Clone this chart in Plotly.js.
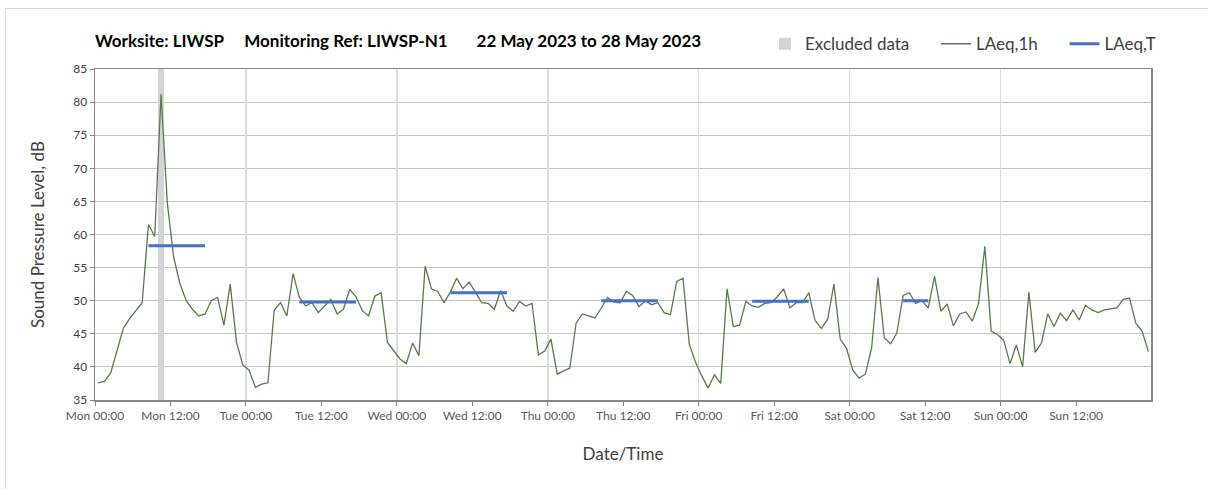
<!DOCTYPE html>
<html>
<head>
<meta charset="utf-8">
<script src="https://cdn.plot.ly/plotly-3.0.1.min.js"></script>
<style>
  body { margin: 0; background: #ffffff; }
  #chart { position: absolute; left: 0; top: 0; width: 1208px; height: 489px; }
  #frame { position: absolute; left: 5px; top: 8px; width: 1210px; height: 490px;
           border-top: 1px solid #d9d9d9; border-left: 1px solid #d9d9d9; pointer-events: none; }
</style>
</head>
<body>
<div id="chart"></div>
<div id="frame"></div>
<script>
// ------------------------------------------------------------------------------
// DATA

// hourly LAeq,1h from Mon 22 May 2023 00:00, one value per hour (plotted mid-hour)
const firstHour = Date.UTC(2023, 4, 22, 0, 30);
const laeq1h = [
    37.6, 37.8, 39.1, 42.6, 45.8, 47.3, 48.5, 49.7, 61.5, 59.7, 81.2, 64.8,
    56.6, 52.6, 50.0, 48.7, 47.7, 48.0, 50.0, 50.5, 46.3, 52.5, 43.7, 40.3,
    39.5, 36.9, 37.4, 37.6, 48.6, 49.7, 47.7, 54.1, 50.5, 49.2, 49.7, 48.2,
    49.2, 50.2, 48.0, 48.7, 51.7, 50.6, 48.5, 47.7, 50.7, 51.2, 43.7, 42.4,
    41.2, 40.5, 43.6, 41.7, 55.2, 51.8, 51.4, 49.7, 51.3, 53.4, 51.8, 52.8,
    51.3, 49.7, 49.6, 48.7, 51.5, 49.2, 48.4, 49.9, 49.2, 49.6, 41.8, 42.4,
    44.2, 38.9, 39.4, 39.8, 46.6, 48.0, 47.7, 47.4, 48.9, 50.5, 49.8, 49.7,
    51.4, 50.8, 49.1, 50.0, 49.4, 49.7, 48.2, 47.9, 52.9, 53.4, 43.4, 40.7,
    38.6, 36.8, 38.8, 37.5, 51.8, 46.1, 46.3, 49.9, 49.2, 49.0, 49.6, 49.7,
    50.6, 51.8, 48.9, 49.7, 49.7, 51.2, 47.0, 45.8, 47.2, 52.5, 44.2, 42.8,
    39.5, 38.3, 38.9, 42.9, 53.5, 44.4, 43.5, 45.1, 50.8, 51.2, 49.6, 50.0,
    48.9, 53.7, 48.4, 49.5, 46.2, 48.0, 48.3, 46.9, 49.6, 58.2, 45.4, 44.9,
    44.0, 40.5, 43.3, 40.0, 51.3, 42.2, 43.6, 48.0, 46.1, 48.1, 47.0, 48.6,
    47.1, 49.3, 48.6, 48.2, 48.6, 48.7, 48.9, 50.2, 50.4, 46.6, 45.4, 42.3
];

// LAeq,T over each assessment period
const periodStart = ['2023-05-22 08:30', '2023-05-23 08:30', '2023-05-24 08:30',
                     '2023-05-25 08:30', '2023-05-26 08:30', '2023-05-27 08:30'];
const periodEnd   = ['2023-05-22 17:30', '2023-05-23 17:30', '2023-05-24 17:30',
                     '2023-05-25 17:30', '2023-05-26 17:30', '2023-05-27 12:30'];
const laeqT       = [58.3, 49.8, 51.2, 50.0, 49.9, 50.0];

// excluded hour
const excludedHour = ['2023-05-22 10:30'];

const yMin = 35;
const yMax = 85;

const font_family = 'Lato, "Open Sans", sans-serif';
const nb = '\u00a0';

// ------------------------------------------------------------------------------
// BUILD

function hourLabel(i) {
    return new Date(firstHour + i * 3600000).toISOString().slice(0, 16).replace('T', ' ');
}

const hourTimes = laeq1h.map((v, i) => hourLabel(i));

const tX = [];
const tY = [];
for (let i = 0; i < laeqT.length; i++) {
    tX.push(periodStart[i], periodEnd[i], null);
    tY.push(laeqT[i], laeqT[i], null);
}

const excluded_trace = {
    type: 'bar',
    name: 'Excluded data' + nb.repeat(5),
    x: excludedHour,
    y: excludedHour.map(() => yMax - yMin),
    base: yMin,
    width: 3600000,
    marker: { color: '#d4d4d4', line: { width: 0 } },
    xaxis: 'x',
    yaxis: 'y',
    hoverinfo: 'skip'
};

const hourly_trace = {
    type: 'scatter',
    mode: 'lines',
    name: 'LAeq,1h' + nb.repeat(5),
    x: hourTimes,
    y: laeq1h,
    line: { color: '#5b7a47', width: 1.3 },
    xaxis: 'x',
    yaxis: 'y',
    hoverinfo: 'skip'
};

const period_trace = {
    type: 'scatter',
    mode: 'lines',
    name: 'LAeq,T',
    x: tX,
    y: tY,
    connectgaps: false,
    line: { color: '#4472c4', width: 3 },
    xaxis: 'x2',
    yaxis: 'y',
    hoverinfo: 'skip'
};

const xRange = ['2023-05-22 00:00', '2023-05-28 23:55'];

const layout = {
    width: 1208,
    height: 489,
    paper_bgcolor: 'rgba(0,0,0,0)',
    plot_bgcolor: '#ffffff',
    margin: { l: 95, r: 57, t: 69, b: 89 },
    showlegend: true,
    font: { family: font_family, color: '#404040', size: 12 },
    title: {
        text: 'Worksite: LIWSP' + nb.repeat(5) + 'Monitoring Ref: LIWSP-N1' + nb.repeat(7) + '22 May 2023 to 28 May 2023',
        font: { family: font_family, size: 17, color: '#000000', weight: 'bold' },
        xref: 'paper',
        x: 0,
        xanchor: 'left',
        yref: 'container',
        y: 1 - 41 / 489,
        yanchor: 'middle'
    },
    legend: {
        orientation: 'h',
        x: (765 - 95) / 1056,
        xanchor: 'left',
        y: 1.075,
        yanchor: 'middle',
        font: { family: font_family, size: 17, color: '#404040' },
        bgcolor: 'rgba(0,0,0,0)',
        traceorder: 'normal'
    },
    bargap: 0,
    xaxis: {
        type: 'date',
        range: xRange,
        tick0: '2023-05-22 00:00',
        dtick: 43200000,
        tickformat: '%a %H:%M',
        ticks: 'outside',
        ticklen: 4,
        tickcolor: '#868686',
        showgrid: false,
        zeroline: false,
        showline: true,
        linecolor: '#868686',
        linewidth: 1.5,
        mirror: true,
        tickfont: { size: 12, color: '#595959' },
        title: { text: 'Date/Time', font: { size: 17, color: '#404040' }, standoff: 26 }
    },
    xaxis2: {
        type: 'date',
        overlaying: 'x',
        matches: 'x',
        range: xRange,
        tick0: '2023-05-22 00:00',
        dtick: 86400000,
        showticklabels: false,
        ticks: '',
        showgrid: true,
        gridcolor: '#dcdcdc',
        gridwidth: 1.5,
        zeroline: false,
        showline: false
    },
    yaxis: {
        range: [yMin, yMax],
        dtick: 5,
        ticks: 'outside',
        ticklen: 4,
        tickcolor: '#868686',
        showgrid: true,
        gridcolor: '#c4c4c4',
        gridwidth: 1.2,
        zeroline: false,
        showline: true,
        linecolor: '#868686',
        linewidth: 1.5,
        mirror: true,
        tickfont: { size: 12, color: '#404040' },
        title: { text: 'Sound Pressure Level, dB', font: { size: 17, color: '#404040' }, standoff: 24 }
    }
};

Plotly.newPlot('chart', [excluded_trace, hourly_trace, period_trace], layout, { displayModeBar: false, staticPlot: true });
</script>
</body>
</html>
